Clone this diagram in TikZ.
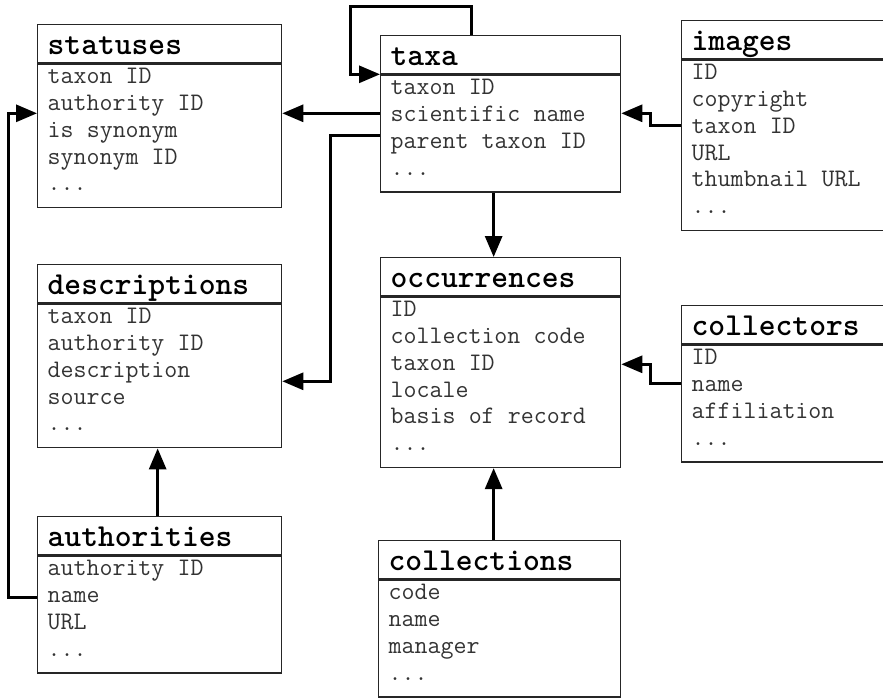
\documentclass[tikz,border=0pt]{standalone}
\usepackage{tikz}
\usetikzlibrary{arrows.meta}

\tikzset{
	tabhead/.style={draw=black!85, line width=1.3pt, anchor=north west,
		inner xsep=10pt, inner ysep=0pt, text width=#1,
		font=\ttfamily\bfseries\fontsize{32}{34}\selectfont,
		execute at begin node={\noindent\rule{0pt}{30pt}},
		execute at end node={\rule[-8pt]{0pt}{8pt}}},
	tabhead/.default=224pt,
	tabfields/.style={draw=black!85, line width=1.3pt, anchor=north west,
		inner xsep=10pt, inner ysep=0pt, text width=#1,
		text=black!80, font=\ttfamily\fontsize{25.2}{26.7}\selectfont,
		execute at begin node={\spaceskip=0.525em\relax\noindent\rule{0pt}{20pt}},
		execute at end node={\rule[-17pt]{0pt}{17pt}}},
	tabfields/.default=224pt,
	link/.style={line width=3pt, -{Triangle[length=21pt,width=17pt]}}
}

\begin{document}
\begin{tikzpicture}[x=1pt, y=-1pt]
	\useasboundingbox (0,0) rectangle (883,698);

	% Tabelas: cabeçalho + campos
	\node[tabhead] (statuses) at (37,24) {statuses};
	\node[tabfields] (statuses-f) at (statuses.south west)
		{taxon ID\\authority ID\\is synonym\\synonym ID\\...};

	\node[tabhead=220pt] (taxa) at (380,35) {taxa};
	\node[tabfields=220pt] (taxa-f) at (taxa.south west)
		{taxon ID\\scientific name\\parent taxon ID\\...};

	\node[tabhead] (images) at (681,20) {images};
	\node[tabfields] (images-f) at (images.south west)
		{ID\\copyright\\taxon ID\\URL\\thumbnail URL\\...};

	\node[tabhead] (descriptions) at (37,264) {descriptions};
	\node[tabfields] (descriptions-f) at (descriptions.south west)
		{taxon ID\\authority ID\\description\\source\\...};

	\node[tabhead=220pt] (occurrences) at (380,257) {occurrences};
	\node[tabfields=220pt] (occurrences-f) at (occurrences.south west)
		{ID\\collection code\\taxon ID\\locale\\basis of record\\...};

	\node[tabhead] (collectors) at (681,305) {collectors};
	\node[tabfields] (collectors-f) at (collectors.south west)
		{ID\\name\\affiliation\\...};

	\node[tabhead] (authorities) at (37,516) {authorities};
	\node[tabfields] (authorities-f) at (authorities.south west)
		{authority ID\\name\\URL\\...};

	\node[tabhead=222pt] (collections) at (378,540) {collections};
	\node[tabfields=222pt] (collections-f) at (collections.south west)
		{code\\name\\manager\\...};

	% Ligações
	\draw[link] ([xshift=91pt]taxa.north west) -- ++(0,-28)
		-| ([xshift=-30pt]taxa.south west) -- (taxa.south west);
	\draw[link] ([yshift=-39pt]taxa-f.north west) coordinate (a)
		-- (statuses-f.east |- a);
	\draw[link] ([yshift=-61pt]taxa-f.north west) -- ++(-50,0)
		|- ([yshift=-78pt]descriptions-f.north east);
	\draw[link] ([xshift=-7pt]taxa-f.south) -- ([xshift=-7pt]occurrences.north);
	\draw[link] ([yshift=-66pt]images-f.north west) -- ++(-31,0)
		|- ([yshift=-39pt]taxa-f.north east);
	\draw[link] ([yshift=-39pt]collectors-f.north west) -- ++(-31,0)
		|- ([yshift=-68pt]occurrences-f.north east);
	\draw[link] ([xshift=-6pt]collections.north) -- ([xshift=-7pt]occurrences-f.south);
	\draw[link] ([xshift=-2pt]authorities.north) -- ([xshift=-2pt]descriptions-f.south);
	\draw[link] ([yshift=-42pt]authorities-f.north west) -- ++(-29,0)
		|- ([yshift=-50pt]statuses-f.north west);
\end{tikzpicture}
\end{document}
